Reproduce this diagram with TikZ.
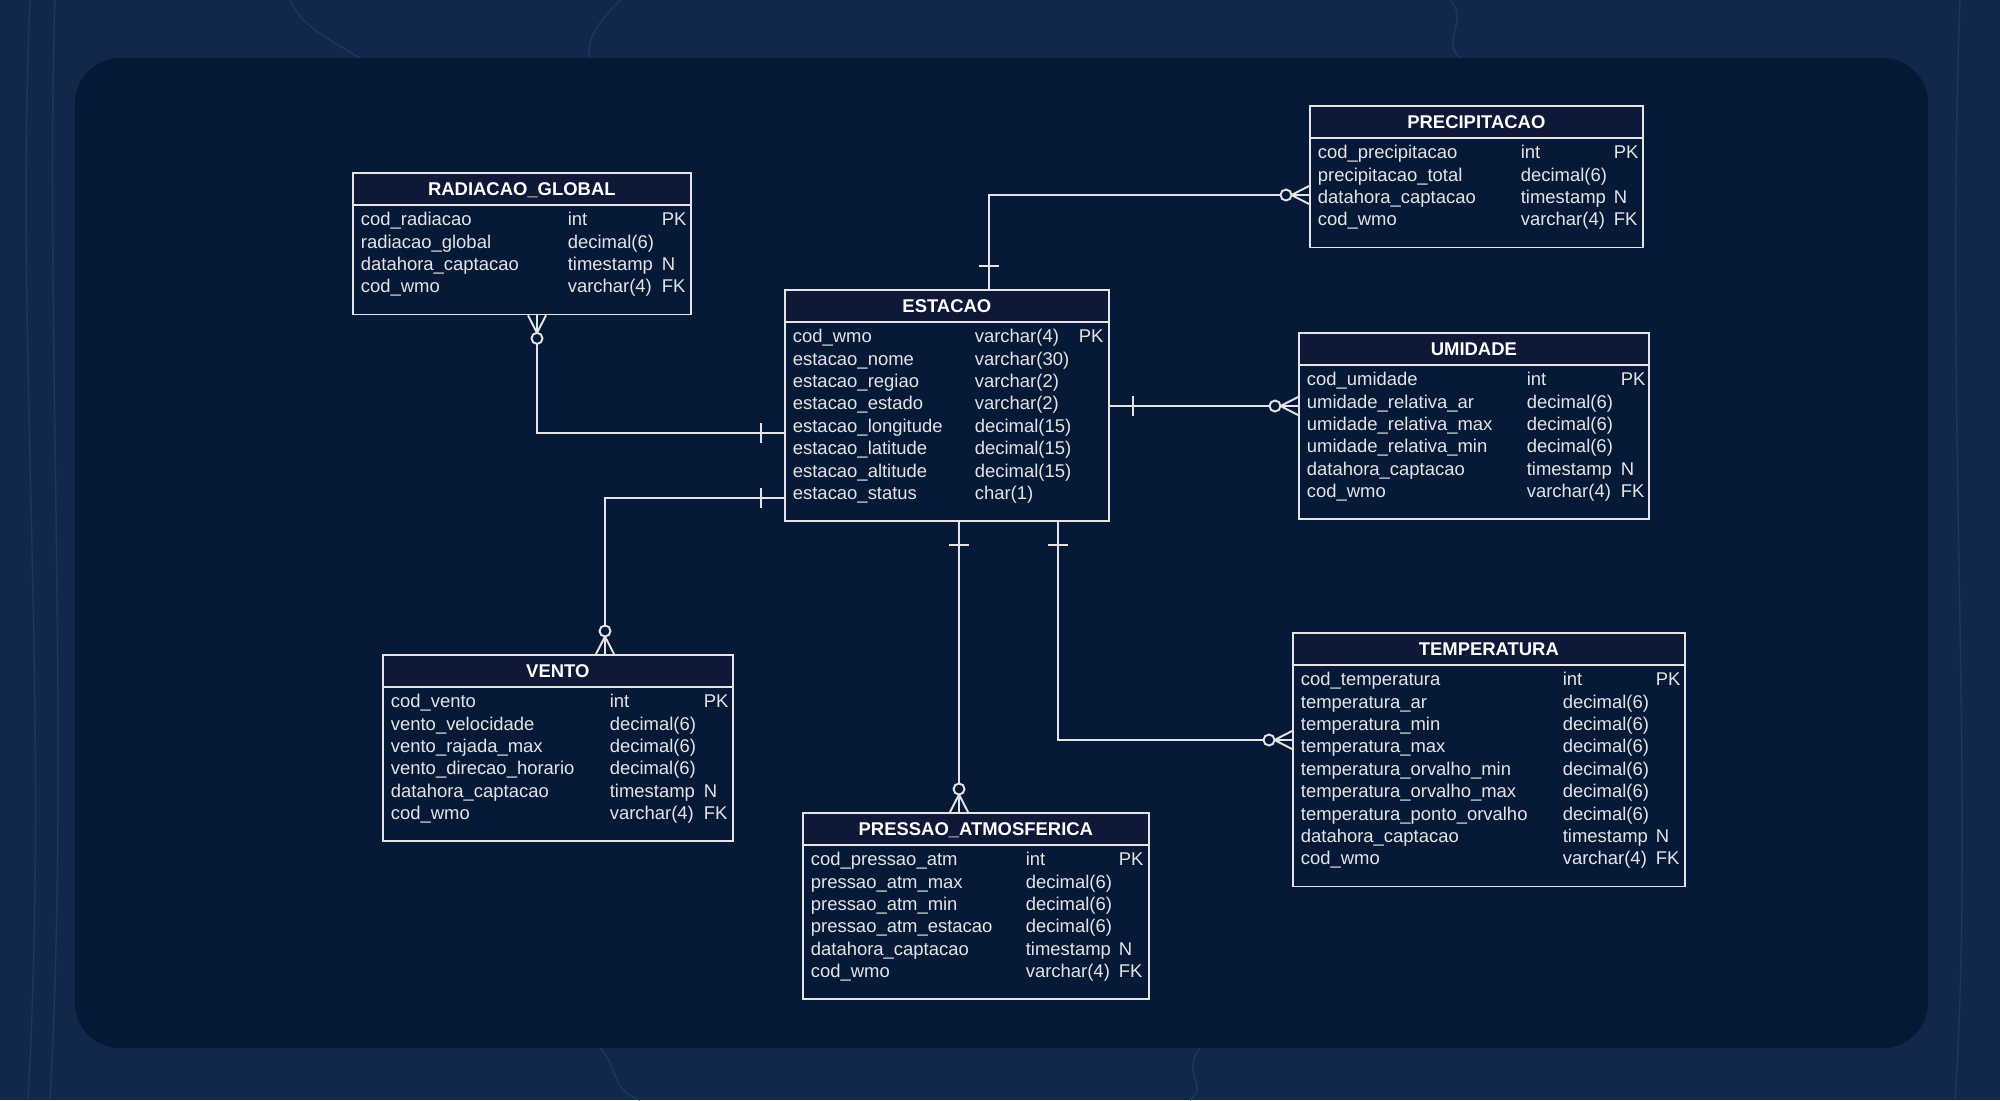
\documentclass[tikz,border=0pt]{standalone}
\usepackage{fontspec}
\setmainfont{Liberation Sans}
\usetikzlibrary{calc}

\definecolor{backdrop}{HTML}{12274A}
\definecolor{contourline}{HTML}{1C3760}
\definecolor{panel}{HTML}{061A38}
\definecolor{headfill}{HTML}{101838}
\definecolor{ink}{HTML}{E4E4E4}

% table body: title, column widths, rows
\newcommand{\entity}[5]{%
    \begin{tabular}{@{}p{#2}@{}p{#3}@{}p{#4}@{}}
        \multicolumn{3}{@{}c@{}}{\bfseries\color{white}#1}\\[0.16cm]
        #5\\[0.16cm]
    \end{tabular}}

\tikzset{
    entity/.style={
        draw=ink, line width=1pt, fill=panel, text=ink,
        anchor=north west, inner xsep=0.16cm, inner ysep=0.136cm,
        font=\fontsize{10.5}{12.75}\selectfont,
        path picture={
            \fill[headfill] (path picture bounding box.north west)
                rectangle ([yshift=-0.64cm]path picture bounding box.north east);
            \draw[draw=ink, line width=1pt]
                ([yshift=-0.64cm]path picture bounding box.north west)
                -- ([yshift=-0.64cm]path picture bounding box.north east);
        }},
    rel/.style={draw=ink, line width=1.1pt},
    contour/.style={draw=contourline, line width=0.8pt},
    one/.pic={\draw[rel] (-23,-10) -- (-23,10);},
    many/.pic={
        \draw[rel, fill=panel] (-23,0) circle[radius=0.11cm];
        \draw[rel] (-17.5,0) -- (0,9) (-17.5,0) -- (0,-9);}
}

\begin{document}
\begin{tikzpicture}[x=0.02cm, y=-0.02cm]

    % backdrop and panel
    \useasboundingbox (0,0) rectangle (2000,1100);
    \fill[backdrop] (0,0) rectangle (2000,1100);
    \draw[contour] (30,0) .. controls (15,350) and (50,700) .. (28,1100);
    \draw[contour] (55,0) .. controls (45,300) and (70,750) .. (50,1100);
    \draw[contour] (290,0) .. controls (300,25) and (330,40) .. (360,58);
    \draw[contour] (620,0) .. controls (600,20) and (585,40) .. (590,58);
    \draw[contour] (1450,0) .. controls (1470,20) and (1440,40) .. (1460,58);
    \draw[contour] (1960,0) .. controls (1945,400) and (1975,800) .. (1955,1100);
    \draw[contour] (600,1048) .. controls (620,1070) and (610,1090) .. (640,1100);
    \draw[contour] (1200,1048) .. controls (1180,1075) and (1210,1085) .. (1190,1100);
    \fill[panel, rounded corners=0.9cm] (75,58) rectangle (1928,1048);

    % RADIACAO_GLOBAL
    \node[entity] (radiacao) at (352,172) {\entity{RADIACAO\_GLOBAL}{4.14cm}{1.88cm}{0.42cm}{
        cod\_radiacao & int & PK\\
        radiacao\_global & decimal(6) & \\
        datahora\_captacao & timestamp & N\\
        cod\_wmo & varchar(4) & FK}};

    % ESTACAO
    \node[entity] (estacao) at (784,289) {\entity{ESTACAO}{3.64cm}{2.08cm}{0.44cm}{
        cod\_wmo & varchar(4) & PK\\
        estacao\_nome & varchar(30) & \\
        estacao\_regiao & varchar(2) & \\
        estacao\_estado & varchar(2) & \\
        estacao\_longitude & decimal(15) & \\
        estacao\_latitude & decimal(15) & \\
        estacao\_altitude & decimal(15) & \\
        estacao\_status & char(1) & }};

    % PRECIPITACAO
    \node[entity] (precip) at (1309,105) {\entity{PRECIPITACAO}{4.06cm}{1.86cm}{0.42cm}{
        cod\_precipitacao & int & PK\\
        precipitacao\_total & decimal(6) & \\
        datahora\_captacao & timestamp & N\\
        cod\_wmo & varchar(4) & FK}};

    % UMIDADE
    \node[entity] (umidade) at (1298,332) {\entity{UMIDADE}{4.40cm}{1.88cm}{0.40cm}{
        cod\_umidade & int & PK\\
        umidade\_relativa\_ar & decimal(6) & \\
        umidade\_relativa\_max & decimal(6) & \\
        umidade\_relativa\_min & decimal(6) & \\
        datahora\_captacao & timestamp & N\\
        cod\_wmo & varchar(4) & FK}};

    % VENTO
    \node[entity] (vento) at (382,654) {\entity{VENTO}{4.38cm}{1.88cm}{0.42cm}{
        cod\_vento & int & PK\\
        vento\_velocidade & decimal(6) & \\
        vento\_rajada\_max & decimal(6) & \\
        vento\_direcao\_horario & decimal(6) & \\
        datahora\_captacao & timestamp & N\\
        cod\_wmo & varchar(4) & FK}};

    % PRESSAO_ATMOSFERICA
    \node[entity] (pressao) at (802,812) {\entity{PRESSAO\_ATMOSFERICA}{4.30cm}{1.86cm}{0.44cm}{
        cod\_pressao\_atm & int & PK\\
        pressao\_atm\_max & decimal(6) & \\
        pressao\_atm\_min & decimal(6) & \\
        pressao\_atm\_estacao & decimal(6) & \\
        datahora\_captacao & timestamp & N\\
        cod\_wmo & varchar(4) & FK}};

    % TEMPERATURA
    \node[entity] (temp) at (1292,632) {\entity{TEMPERATURA}{5.24cm}{1.86cm}{0.42cm}{
        cod\_temperatura & int & PK\\
        temperatura\_ar & decimal(6) & \\
        temperatura\_min & decimal(6) & \\
        temperatura\_max & decimal(6) & \\
        temperatura\_orvalho\_min & decimal(6) & \\
        temperatura\_orvalho\_max & decimal(6) & \\
        temperatura\_ponto\_orvalho & decimal(6) & \\
        datahora\_captacao & timestamp & N\\
        cod\_wmo & varchar(4) & FK}};

    % attach points on ESTACAO
    \coordinate (e1) at ($(estacao.north west)+(205,0)$);
    \coordinate (e2) at ($(estacao.north east)+(0,117)$);
    \coordinate (e3) at ($(estacao.north west)+(0,144)$);
    \coordinate (e4) at ($(estacao.north west)+(0,209)$);
    \coordinate (e5) at ($(estacao.south west)+(175,0)$);
    \coordinate (e6) at ($(estacao.south west)+(274,0)$);

    % attach points on the other tables
    \coordinate (p1) at ($(precip.north west)+(0,90)$);
    \coordinate (u1) at (e2 -| umidade.west);
    \coordinate (r1) at ($(radiacao.south west)+(185,0)$);
    \coordinate (v1) at ($(vento.north west)+(223,0)$);
    \coordinate (a1) at (e5 |- pressao.north);
    \coordinate (t1) at ($(temp.north west)+(0,108)$);

    % relations
    \draw[rel] (e1) |- (p1);
    \draw[rel] (e2) -- (u1);
    \draw[rel] (e3) -| (r1);
    \draw[rel] (e4) -| (v1);
    \draw[rel] (e5) -- (a1);
    \draw[rel] (e6) |- (t1);

    % one side
    \pic[rotate=-90] at (e1) {one};
    \pic[rotate=180] at (e2) {one};
    \pic at (e3) {one};
    \pic at (e4) {one};
    \pic[rotate=90] at (e5) {one};
    \pic[rotate=90] at (e6) {one};

    % zero or many side
    \pic at (p1) {many};
    \pic at (u1) {many};
    \pic[rotate=90] at (r1) {many};
    \pic[rotate=-90] at (v1) {many};
    \pic[rotate=-90] at (a1) {many};
    \pic at (t1) {many};

\end{tikzpicture}
\end{document}
